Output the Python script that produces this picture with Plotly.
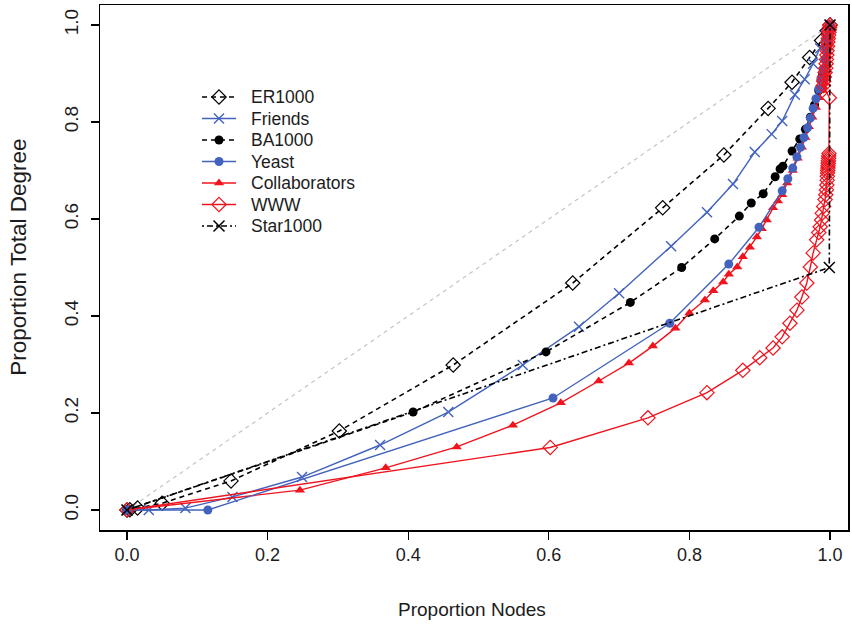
import plotly.graph_objects as go

# ---------------- data ----------------
diag_x = [0.0, 1.0]
diag_y = [0.0, 1.0]

er_x = [0.0, 0.004, 0.015, 0.05, 0.148, 0.302, 0.464, 0.634, 0.762, 0.849, 0.912, 0.946, 0.971, 0.988, 0.996, 1.0]
er_y = [0.0, 0.0005, 0.004, 0.014, 0.06, 0.163, 0.299, 0.468, 0.623, 0.732, 0.828, 0.882, 0.933, 0.968, 0.988, 1.0]

fr_x = [0.0, 0.031, 0.083, 0.15, 0.249, 0.36, 0.457, 0.563, 0.643, 0.70, 0.774, 0.825, 0.862, 0.893, 0.917, 0.932, 0.95, 0.964, 0.976, 0.986, 0.994, 1.0]
fr_y = [0.0, 0.0, 0.004, 0.027, 0.068, 0.134, 0.202, 0.299, 0.378, 0.447, 0.544, 0.614, 0.672, 0.738, 0.775, 0.802, 0.856, 0.888, 0.92, 0.952, 0.978, 1.0]

ba_x = [0.0, 0.407, 0.596, 0.716, 0.789, 0.836, 0.871, 0.888, 0.905, 0.922, 0.929, 0.933, 0.946, 0.957, 0.965, 0.972, 0.978, 0.984, 0.989, 0.994, 0.997, 1.0]
ba_y = [0.0, 0.202, 0.326, 0.428, 0.50, 0.559, 0.606, 0.633, 0.652, 0.687, 0.703, 0.709, 0.74, 0.765, 0.785, 0.81, 0.835, 0.865, 0.895, 0.93, 0.96, 1.0]

ye_x = [0.0, 0.115, 0.606, 0.772, 0.856, 0.899, 0.932, 0.94, 0.947, 0.953, 0.958, 0.963, 0.968, 0.972, 0.976, 0.98, 0.984, 0.987, 0.99, 0.993, 0.995, 0.997, 0.999, 1.0]
ye_y = [0.0, 0.0, 0.231, 0.385, 0.507, 0.583, 0.658, 0.683, 0.705, 0.728, 0.748, 0.768, 0.788, 0.808, 0.828, 0.848, 0.868, 0.888, 0.908, 0.928, 0.948, 0.968, 0.985, 1.0]

co_x = [0.0, 0.246, 0.368, 0.469, 0.549, 0.617, 0.671, 0.714, 0.748, 0.78, 0.80, 0.822, 0.834, 0.848,
        0.856, 0.868, 0.876, 0.886, 0.896, 0.903, 0.91, 0.919, 0.926, 0.932, 0.939, 0.947, 0.954, 0.96,
        0.965, 0.97, 0.975, 0.98, 0.985, 0.989, 0.991, 0.992, 0.993, 0.994, 0.9945, 0.995, 0.9955, 0.996,
        0.9965, 0.997, 0.9975, 0.998, 0.9985, 0.999, 0.9995, 1.0]
co_y = [0.0, 0.041, 0.087, 0.13, 0.175, 0.221, 0.266, 0.303, 0.338, 0.375, 0.406, 0.433, 0.452, 0.47,
        0.486, 0.501, 0.522, 0.542, 0.563, 0.58, 0.598, 0.623, 0.637, 0.65, 0.674, 0.70, 0.725, 0.748,
        0.768, 0.79, 0.81, 0.83, 0.85, 0.865, 0.872, 0.88, 0.888, 0.896, 0.904, 0.912, 0.92, 0.928,
        0.936, 0.944, 0.952, 0.96, 0.968, 0.976, 0.986, 1.0]

ww_x = [0.0, 0.602, 0.741, 0.825, 0.876, 0.900, 0.919, 0.932, 0.943, 0.953, 0.960, 0.967, 0.972, 0.976,
        0.981, 0.984, 0.986, 0.988, 0.989, 0.991, 0.993, 0.994, 0.995, 0.9955, 0.996, 0.9962, 0.9965,
        0.9967, 0.997, 0.9972, 0.9975, 0.9977, 0.998, 0.9982, 0.9985,
        0.999, 0.9905, 0.991, 0.992, 0.993, 0.994, 0.9945, 0.995, 0.9955, 0.996, 0.9965, 0.997,
        0.9975, 0.998, 0.9985, 0.999, 0.9995, 1.0]
ww_y = [0.0, 0.129, 0.19, 0.242, 0.288, 0.314, 0.334, 0.357, 0.385, 0.412, 0.439, 0.468, 0.501, 0.53,
        0.557, 0.572, 0.584, 0.598, 0.612, 0.626, 0.64, 0.65, 0.66, 0.67, 0.68, 0.688, 0.695,
        0.70, 0.705, 0.71, 0.715, 0.72, 0.725, 0.73, 0.735,
        0.85, 0.875, 0.884, 0.893, 0.902, 0.911, 0.92, 0.929, 0.938, 0.947, 0.956, 0.965,
        0.972, 0.979, 0.985, 0.99, 0.995, 1.0]

st_x = [0.0, 0.999, 1.0]
st_y = [0.0, 0.5, 1.0]

x_ticks = [0.0, 0.2, 0.4, 0.6, 0.8, 1.0]
x_ticklabels = ["0.0", "0.2", "0.4", "0.6", "0.8", "1.0"]
y_ticks = [0.0, 0.2, 0.4, 0.6, 0.8, 1.0]
y_ticklabels = ["0.0", "0.2", "0.4", "0.6", "0.8", "1.0"]

legend_names = ["ER1000", "Friends", "BA1000", "Yeast", "Collaborators", "WWW", "Star1000"]

# ---------------- styles ----------------
BLUE = "#4262BE"
RED = "#F0141E"
BLACK = "#000000"
FONT = "Liberation Sans, Arial, sans-serif"
TXT = "#1c1c1c"

DASH = "5px,4px"
DOTDASH = "2px,3px,6px,3px"

styles = {
    "ER1000": dict(line=dict(color=BLACK, width=1.6, dash=DASH),
                   marker=dict(symbol="diamond-open", size=11, color=BLACK, line=dict(width=1.2, color=BLACK))),
    "Friends": dict(line=dict(color=BLUE, width=1.4),
                    marker=dict(symbol="x-thin-open", size=10, color=BLUE, line=dict(width=1.4, color=BLUE))),
    "BA1000": dict(line=dict(color=BLACK, width=1.6, dash=DASH),
                   marker=dict(symbol="circle", size=9, color=BLACK)),
    "Yeast": dict(line=dict(color=BLUE, width=1.4),
                  marker=dict(symbol="circle", size=9, color=BLUE)),
    "Collaborators": dict(line=dict(color=RED, width=1.4),
                          marker=dict(symbol="triangle-up", size=9, color=RED)),
    "WWW": dict(line=dict(color=RED, width=1.4),
                marker=dict(symbol="diamond-open", size=11, color=RED, line=dict(width=1.2, color=RED))),
    "Star1000": dict(line=dict(color=BLACK, width=1.6, dash=DOTDASH),
                     marker=dict(symbol="x-thin-open", size=11, color=BLACK, line=dict(width=1.5, color=BLACK))),
}

series = {
    "ER1000": (er_x, er_y),
    "Friends": (fr_x, fr_y),
    "BA1000": (ba_x, ba_y),
    "Collaborators": (co_x, co_y),
    "Yeast": (ye_x, ye_y),
    "WWW": (ww_x, ww_y),
    "Star1000": (st_x, st_y),
}

fig = go.Figure()

fig.add_trace(go.Scatter(x=diag_x, y=diag_y, mode="lines", showlegend=False,
                         line=dict(color="#C4C4C4", width=1.2, dash="4px,4px"), hoverinfo="skip"))

for name, (xs, ys) in series.items():
    fig.add_trace(go.Scatter(x=xs, y=ys, mode="lines+markers", name=name, showlegend=False,
                             **styles[name]))

# ---- legend (drawn on an overlay axis measured in pixels of the page) ----
PLOT_L, PLOT_R, PLOT_T, PLOT_B = 100, 848, 5, 530
LEG_X0, LEG_X1, LEG_TXT = 202, 236, 249
LEG_Y0, LEG_DY = 97, 21.5
annotations = []
for i, name in enumerate(legend_names):
    yy = LEG_Y0 + LEG_DY * i
    st = styles[name]
    fig.add_trace(go.Scatter(x=[LEG_X0, LEG_X1], y=[yy, yy], mode="lines", xaxis="x2", yaxis="y2",
                             showlegend=False, hoverinfo="skip", line=st["line"]))
    fig.add_trace(go.Scatter(x=[(LEG_X0 + LEG_X1) / 2], y=[yy], mode="markers", xaxis="x2", yaxis="y2",
                             showlegend=False, hoverinfo="skip", marker=st["marker"]))
    annotations.append(dict(text=name, xref="x2", yref="y2", x=LEG_TXT, y=yy, xanchor="left",
                            yanchor="middle", showarrow=False,
                            font=dict(family=FONT, size=17.5, color=TXT)))

annotations += [
    dict(text="Proportion Nodes", xref="paper", yref="paper", x=0.497, y=-0.152,
         xanchor="center", yanchor="middle", showarrow=False,
         font=dict(family=FONT, size=19, color=TXT)),
    dict(text="Proportion Total Degree", xref="paper", yref="paper", x=-0.11, y=0.52,
         xanchor="center", yanchor="middle", showarrow=False, textangle=-90,
         font=dict(family=FONT, size=22.5, color=TXT)),
]

fig.update_layout(
    width=852, height=627,
    margin=dict(l=PLOT_L, r=852 - PLOT_R, t=PLOT_T, b=627 - PLOT_B, autoexpand=False),
    paper_bgcolor="white", plot_bgcolor="white",
    font=dict(family=FONT, size=18, color=TXT),
    showlegend=False,
    hovermode=False,
    annotations=annotations,
    xaxis=dict(range=[-0.0384, 1.0256], tickvals=x_ticks, ticktext=x_ticklabels,
               showgrid=False, zeroline=False, showline=True, linecolor=BLACK, linewidth=1.5,
               mirror=True, ticks="outside", ticklen=8, tickwidth=1.2, tickcolor=BLACK,
               automargin=False, tickfont=dict(family=FONT, size=18, color=TXT)),
    yaxis=dict(range=[-0.0412, 1.0412], tickvals=y_ticks, ticktext=y_ticklabels,
               showgrid=False, zeroline=False, showline=True, linecolor=BLACK, linewidth=1.5,
               mirror=True, ticks="outside", ticklen=8, tickwidth=1.2, tickcolor=BLACK,
               tickangle=-90, automargin=False, ticklabelstandoff=5,
               tickfont=dict(family=FONT, size=19, color=TXT)),
    xaxis2=dict(overlaying="x", range=[PLOT_L, PLOT_R], visible=False, fixedrange=True),
    yaxis2=dict(overlaying="y", range=[PLOT_B, PLOT_T], visible=False, fixedrange=True, anchor="x2"),
)

fig.write_html("out.html", config={"displayModeBar": False, "staticPlot": True},
               post_script="document.body.style.margin='0px';document.body.style.padding='0px';")
